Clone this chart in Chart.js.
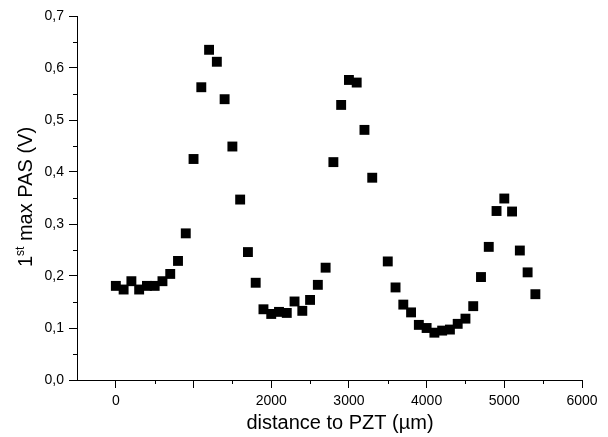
<!DOCTYPE html>
<html>
<head>
<meta charset="utf-8">
<script src="https://cdn.jsdelivr.net/npm/chart.js@4/dist/chart.umd.min.js"></script>
<style>
  html, body { margin: 0; padding: 0; background: #fff; }
  #wrap { width: 608px; height: 437px; }
</style>
</head>
<body>
<div id="wrap"><canvas id="grafico"></canvas></div>
<script>
// ---------------------- dados ----------------------//
var distancia = [0, 100, 200, 300, 400, 500, 600, 700, 800, 900,
  1000, 1100, 1200, 1300, 1400, 1500, 1600, 1700, 1800, 1900,
  2000, 2100, 2200, 2300, 2400, 2500, 2600, 2700, 2800, 2900,
  3000, 3100, 3200, 3300, 3500, 3600, 3700, 3800, 3900,
  4000, 4100, 4200, 4300, 4400, 4500, 4600, 4700, 4800, 4900,
  5000, 5100, 5200, 5300, 5400];
var pas = [0.181, 0.174, 0.190, 0.174, 0.181, 0.181, 0.190, 0.204, 0.229, 0.282,
  0.425, 0.563, 0.635, 0.612, 0.540, 0.449, 0.347, 0.246, 0.187, 0.136,
  0.127, 0.131, 0.129, 0.151, 0.133, 0.154, 0.183, 0.216, 0.419, 0.529,
  0.577, 0.572, 0.481, 0.389, 0.228, 0.178, 0.145, 0.130, 0.106,
  0.100, 0.091, 0.095, 0.097, 0.108, 0.118, 0.142, 0.198, 0.256, 0.325,
  0.349, 0.324, 0.249, 0.207, 0.165];
var xLabels = [0, 2000, 3000, 4000, 5000, 6000];   // 1000 sem rótulo no original
var yLabels = [0, 0.1, 0.2, 0.3, 0.4, 0.5, 0.6, 0.7];

var pontos = distancia.map(function (x, i) { return { x: x, y: pas[i] }; });

var fonte = '"Liberation Sans", Arial, sans-serif';

// ticks menores + títulos dos eixos
var extras = {
  id: 'extras',
  afterDraw: function (chart) {
    var ctx = chart.ctx;
    var xs = chart.scales.x, ys = chart.scales.y;
    var area = chart.chartArea;
    ctx.save();
    ctx.strokeStyle = '#000';
    ctx.lineWidth = 1;
    ctx.beginPath();
    for (var v = 500; v < 6000; v += 1000) {
      var px = Math.round(xs.getPixelForValue(v)) + 0.5;
      ctx.moveTo(px, area.bottom);
      ctx.lineTo(px, area.bottom + 4);
    }
    for (var w = 0.05; w < 0.7; w += 0.1) {
      var py = Math.round(ys.getPixelForValue(w)) + 0.5;
      ctx.moveTo(area.left, py);
      ctx.lineTo(area.left - 4, py);
    }
    ctx.stroke();

    ctx.fillStyle = '#000';
    ctx.textBaseline = 'middle';
    ctx.textAlign = 'center';
    ctx.font = '20px ' + fonte;
    ctx.fillText('distance to PZT (\u00b5m)', 340, 423);

    // título y com sobrescrito
    ctx.translate(26, 197);
    ctx.rotate(-Math.PI / 2);
    ctx.textAlign = 'left';
    var big = '20px ' + fonte, small = '12px ' + fonte;
    ctx.font = big; var w1 = ctx.measureText('1').width;
    var w3 = ctx.measureText(' max PAS (V)').width;
    ctx.font = small; var w2 = ctx.measureText('st').width;
    var x0 = -(w1 + w2 + w3) / 2;
    ctx.font = big; ctx.fillText('1', x0, 0);
    ctx.font = small; ctx.fillText('st', x0 + w1, -5);
    ctx.font = big; ctx.fillText(' max PAS (V)', x0 + w1 + w2, 0);
    ctx.restore();
  }
};

var data = {
  datasets: [
    {
      label: '1st max PAS',
      data: pontos,
      pointStyle: 'rect',
      pointRadius: 7,
      pointHoverRadius: 7,
      backgroundColor: '#000',
      borderColor: '#000',
      borderWidth: 0,
      showLine: false
    }
  ]
};

var options = {
  responsive: true,
  maintainAspectRatio: false,
  animation: false,
  layout: { padding: { left: 0, right: 26, top: 16, bottom: 0 } },
  plugins: {
    legend: { display: false },
    tooltip: { enabled: false }
  },
  scales: {
    x: {
      type: 'linear',
      min: -500,
      max: 6000,
      afterFit: function (s) { s.height = 57; },
      afterBuildTicks: function (s) {
        var t = [];
        for (var v = -500; v <= 6000; v += 500) t.push({ value: v });
        s.ticks = t;
      },
      border: { display: true, color: '#000', width: 1 },
      grid: {
        drawOnChartArea: false,
        drawTicks: true,
        tickLength: 8,
        tickColor: function (c) {
          return c.tick && (c.tick.value % 1000 === 0) && c.tick.value >= 0 ? '#000' : 'rgba(0,0,0,0)';
        }
      },
      ticks: {
        autoSkip: false,
        maxRotation: 0,
        padding: 5,
        color: '#000',
        font: { family: fonte, size: 14 },
        callback: function (v) { return xLabels.indexOf(v) >= 0 ? String(v) : ''; }
      }
    },
    y: {
      min: 0,
      max: 0.7,
      afterFit: function (s) { s.width = 77; },
      afterBuildTicks: function (s) {
        var t = [];
        for (var i = 0; i < yLabels.length; i++) t.push({ value: yLabels[i] });
        s.ticks = t;
      },
      border: { display: true, color: '#000', width: 1 },
      grid: {
        drawOnChartArea: false,
        drawTicks: true,
        tickLength: 8,
        tickColor: '#000'
      },
      ticks: {
        autoSkip: false,
        padding: 5,
        color: '#000',
        font: { family: fonte, size: 14 },
        callback: function (v) { return v.toFixed(1).replace('.', ','); }
      }
    }
  }
};

var ctx = document.getElementById('grafico').getContext('2d');
var grafico = new Chart(ctx, {
  type: 'scatter',
  data: data,
  options: options,
  plugins: [extras]
});
</script>
</body>
</html>
